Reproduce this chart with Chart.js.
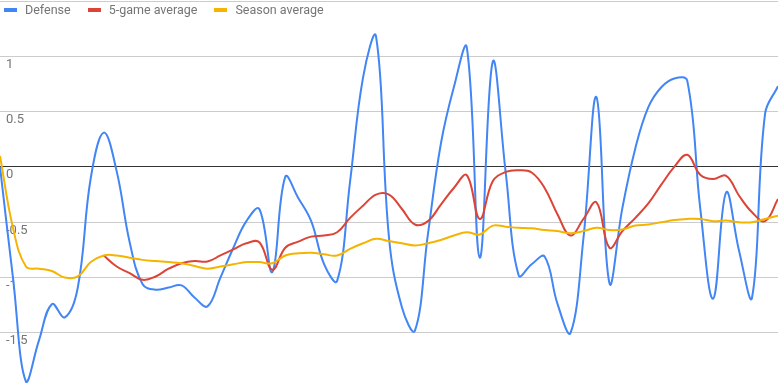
<!DOCTYPE html>
<html>
<head>
<meta charset="utf-8">
<script src="https://cdn.jsdelivr.net/npm/chart.js@4/dist/chart.umd.min.js"></script>
<style>
    body { margin: 0; background: #fff; overflow: hidden; }
    #wrap { position: relative; width: 778px; height: 386px; }
    #legend {
        position: absolute; left: 4px; top: 2px;
        display: flex; align-items: center;
        font: 12.5px Roboto, Arial, sans-serif; color: #757575;
    }
    .item { display: flex; align-items: center; margin-right: 17px; }
    .swatch { width: 13px; height: 4px; margin-right: 8px; }
</style>
</head>
<body>
<div id="wrap">
    <canvas id="chart" width="778" height="386"></canvas>
    <div id="legend"></div>
</div>
<script>
/* =========================
   DATA
========================= */

const seriesNames = ["Defense", "5-game average", "Season average"];
const seriesColors = ["#4285f4", "#db4437", "#f4b400"];

// one point per game
const games = Array.from({ length: 61 }, (_, i) => "Game " + (i + 1));

const defense = [
    0.0, -1.0, -1.94, -1.57, -1.24, -1.36, -1.09, -0.1, 0.31, -0.04,
    -0.68, -1.06, -1.11, -1.09, -1.07, -1.18, -1.26, -1.0, -0.73, -0.49,
    -0.38, -0.95, -0.09, -0.28, -0.49, -0.88, -1.03, -0.13, 0.81, 1.18,
    -0.64, -1.27, -1.48, -0.61, 0.21, 0.72, 1.08, -0.82, 0.95, -0.05,
    -0.98, -0.88, -0.81, -1.24, -1.5, -0.64, 0.63, -1.05, -0.37, 0.17,
    0.54, 0.72, 0.8, 0.78, -0.37, -1.19, -0.23, -0.76, -1.18, 0.48,
    0.73
];

const fiveGameAvg = [
    null, null, null, null, null, null, null, null, -0.8, -0.9,
    -0.96, -1.02, -0.99, -0.92, -0.87, -0.85, -0.855, -0.8, -0.745, -0.69,
    -0.68, -0.93, -0.73, -0.675, -0.63, -0.62, -0.59, -0.46, -0.35, -0.25,
    -0.25, -0.38, -0.52, -0.49, -0.34, -0.19, -0.075, -0.47, -0.13, -0.045,
    -0.03, -0.05, -0.19, -0.43, -0.62, -0.47, -0.32, -0.73, -0.58, -0.46,
    -0.33, -0.16, 0.0, 0.11, -0.07, -0.11, -0.08, -0.26, -0.41, -0.49,
    -0.29
];

const seasonAvg = [
    0.1, -0.55, -0.9, -0.92, -0.94, -1.0, -0.99, -0.86, -0.8, -0.8,
    -0.82, -0.84, -0.85, -0.86, -0.87, -0.895, -0.92, -0.9, -0.88, -0.86,
    -0.86, -0.87, -0.8, -0.78, -0.775, -0.79, -0.8, -0.74, -0.69, -0.65,
    -0.67, -0.69, -0.71, -0.69, -0.66, -0.62, -0.59, -0.61, -0.53, -0.54,
    -0.55, -0.555, -0.57, -0.58, -0.6, -0.58, -0.55, -0.57, -0.565, -0.53,
    -0.52, -0.5, -0.48, -0.47, -0.47, -0.49, -0.485, -0.5, -0.5, -0.47,
    -0.44
];

const yTicks = [-1.5, -1, -0.5, 0, 0.5, 1, 1.5];
const yTickLabels = ["-1.5", "-1", "-0.5", "0", "0.5", "1", ""];
const yMin = -1.98;
const yMax = 1.5;

/* =========================
   LEGEND
========================= */

const legend = document.getElementById("legend");
seriesNames.forEach((name, i) => {
    const item = document.createElement("div");
    item.className = "item";
    item.innerHTML = '<span class="swatch" style="background:' + seriesColors[i] + '"></span><span>' + name + '</span>';
    legend.appendChild(item);
});

/* =========================
   CHART
========================= */

function line(label, data, color, order) {
    return {
        label: label,
        data: data,
        borderColor: color,
        backgroundColor: color,
        borderWidth: 2,
        pointRadius: 0,
        tension: 0.4,
        fill: false,
        spanGaps: false,
        order: order
    };
}

// y labels sit inside the plot, just under their gridline
const insideLabels = {
    id: "insideLabels",
    beforeDatasetsDraw(chart) {
        const ctx = chart.ctx;
        const y = chart.scales.y;
        ctx.save();
        ctx.fillStyle = "#757575";
        ctx.font = "13px Roboto";
        ctx.textAlign = "left";
        ctx.textBaseline = "middle";
        yTicks.forEach((v, i) => {
            ctx.fillText(yTickLabels[i], chart.chartArea.left + 6, y.getPixelForValue(v) + 8);
        });
        ctx.restore();
    }
};

new Chart(document.getElementById("chart"), {
    type: "line",
    data: {
        labels: games,
        datasets: [
            line(seriesNames[0], defense, seriesColors[0], 2),
            line(seriesNames[1], fiveGameAvg, seriesColors[1], 1),
            line(seriesNames[2], seasonAvg, seriesColors[2], 0)
        ]
    },
    plugins: [insideLabels],
    options: {
        responsive: false,
        animation: false,
        layout: { padding: { top: 1, left: 0, right: 0, bottom: 0 } },
        plugins: {
            legend: { display: false },
            tooltip: { enabled: false }
        },
        scales: {
            x: { display: false },
            y: {
                min: yMin,
                max: yMax,
                afterBuildTicks: scale => {
                    scale.ticks = yTicks.map(v => ({ value: v }));
                },
                border: { display: false },
                grid: {
                    drawTicks: false,
                    tickLength: 0,
                    color: c => c.tick && c.tick.value === 0 ? "#333333" : "#cccccc",
                    lineWidth: 1
                },
                ticks: { display: false }
            }
        }
    }
});
</script>
</body>
</html>
